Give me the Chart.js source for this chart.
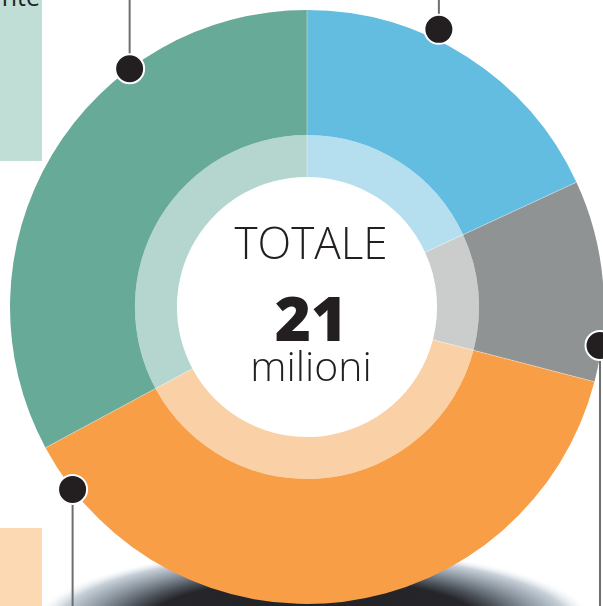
<!DOCTYPE html>
<html>
<head>
<meta charset="utf-8">
<script src="https://cdn.jsdelivr.net/npm/chart.js@4/dist/chart.umd.min.js"></script>
<style>
  html, body { margin: 0; padding: 0; background: #fff; width: 603px; height: 606px; overflow: hidden; position: relative; }
  #wrap { position: absolute; left: 0; top: 0; width: 620px; height: 620px; }
  .rect { position: absolute; left: 0; width: 42px; }
  #r1 { top: 0; height: 161px; background: #c0ddd6; }
  #r2 { top: 528px; height: 78px; background: #fcd8b3; }
  #lbl { position: absolute; right: 563px; top: -21px; font: 400 25px "Open Sans", sans-serif; color: #231f20; white-space: nowrap; }
</style>
</head>
<body>
<div class="rect" id="r1"></div>
<div class="rect" id="r2"></div>
<div id="lbl">nte</div>
<div id="wrap"><canvas id="c" width="620" height="620"></canvas></div>
<script>
// ---- data (millions) ----
const categories = ['Categoria A', 'Categoria B', 'Categoria C', 'Categoria D'];
const values = [3.8, 2.3, 8.0, 6.9];
const totalLabel = 'TOTALE';
const totalValue = '21';
const totalUnit = 'milioni';

const outerColors = ['#63bde0', '#8f9394', '#f79e46', '#68aa98'];
const innerColors = ['#b5dfee', '#cbcccc', '#fad1a6', '#b5d6cf'];

// decorative callouts: which slice, fraction along slice, radial factor, line direction
const callouts = [
  { idx: 0, frac: 0.39, rf: 1.035, dir: -1 },
  { idx: 1, frac: 0.82, rf: 0.995, dir: 1 },
  { idx: 2, frac: 0.93, rf: 1.0, dir: 1 },
  { idx: 3, frac: 0.69, rf: 1.0, dir: -1 }
];

const shadowPlugin = {
  id: 'shadow',
  beforeDatasetsDraw(chart) {
    const arc = chart.getDatasetMeta(0).data[0];
    const ctx = chart.ctx;
    const cx = arc.x + 7, cy = arc.y + arc.outerRadius + 20;
    ctx.save();
    ctx.translate(cx, cy);
    ctx.scale(1, 0.27);
    const R = 280;
    const g = ctx.createRadialGradient(0, 0, 0, 0, 0, R);
    g.addColorStop(0, '#222225');
    g.addColorStop(0.6, '#26262a');
    g.addColorStop(0.68, '#4a5058');
    g.addColorStop(0.8, '#8a949e');
    g.addColorStop(0.92, '#c8d1da');
    g.addColorStop(1, 'rgba(240,244,248,0)');
    ctx.fillStyle = g;
    ctx.beginPath();
    ctx.arc(0, 0, R, 0, Math.PI * 2);
    ctx.fill();
    ctx.restore();
  }
};

const decoPlugin = {
  id: 'deco',
  afterDatasetsDraw(chart) {
    const ctx = chart.ctx;
    const outer = chart.getDatasetMeta(0).data;
    const inner = chart.getDatasetMeta(1).data;
    const cx = outer[0].x, cy = outer[0].y;
    const R = outer[0].outerRadius;
    const r0 = inner[0].innerRadius;
    // thin separators
    ctx.save();
    ctx.strokeStyle = 'rgba(255,255,255,0.35)';
    ctx.lineWidth = 1;
    outer.forEach(a => {
      const ang = a.startAngle;
      ctx.beginPath();
      ctx.moveTo(cx + Math.cos(ang) * r0, cy + Math.sin(ang) * r0);
      ctx.lineTo(cx + Math.cos(ang) * R, cy + Math.sin(ang) * R);
      ctx.stroke();
    });
    ctx.restore();

    // center text
    ctx.save();
    ctx.fillStyle = '#231f20';
    ctx.textAlign = 'center';
    ctx.textBaseline = 'alphabetic';
    ctx.font = '300 44px "Open Sans"';
    ctx.fillText(totalLabel, cx + 4, cy - 48);
    ctx.font = '800 62px "Open Sans"';
    ctx.fillText(totalValue, cx + 4, cy + 34);
    ctx.font = '300 41px "Open Sans"';
    ctx.fillText(totalUnit, cx + 4, cy + 74);
    ctx.restore();

    // callouts
    ctx.save();
    callouts.forEach(c => {
      const a = outer[c.idx];
      const ang = a.startAngle + (a.endAngle - a.startAngle) * c.frac;
      const px = cx + Math.cos(ang) * R * c.rf;
      const py = cy + Math.sin(ang) * R * c.rf;
      ctx.strokeStyle = '#6d6e70';
      ctx.lineWidth = 2;
      ctx.beginPath();
      ctx.moveTo(px, py);
      ctx.lineTo(px, c.dir < 0 ? 0 : chart.height);
      ctx.stroke();
      ctx.beginPath();
      ctx.arc(px, py, 14.5, 0, Math.PI * 2);
      ctx.fillStyle = '#231f20';
      ctx.fill();
      ctx.lineWidth = 2;
      ctx.strokeStyle = '#ffffff';
      ctx.stroke();
    });
    ctx.restore();
  }
};

new Chart(document.getElementById('c'), {
  type: 'doughnut',
  data: {
    labels: categories,
    datasets: [
      { data: values, backgroundColor: outerColors, borderWidth: 0, weight: 125, hoverOffset: 0, offset: 0 },
      { data: values, backgroundColor: innerColors, borderWidth: 0, weight: 42, hoverOffset: 0, offset: 0 }
    ]
  },
  options: {
    responsive: false,
    animation: false,
    cutout: '43.8%',
    events: [],
    layout: { padding: { left: 10, top: 10, right: 16, bottom: 16 } },
    plugins: { legend: { display: false }, tooltip: { enabled: false } }
  },
  plugins: [shadowPlugin, decoPlugin]
});
</script>
</body>
</html>
